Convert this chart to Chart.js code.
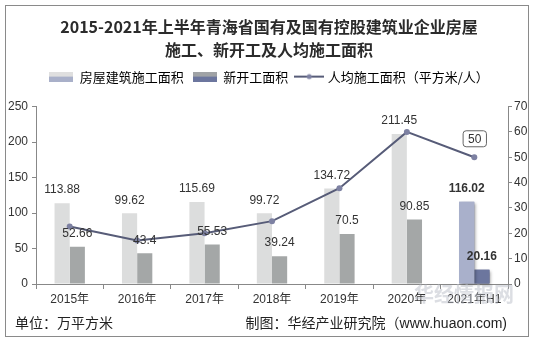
<!DOCTYPE html>
<html>
<head>
<meta charset="utf-8">
<script src="https://cdn.jsdelivr.net/npm/chart.js@4/dist/chart.umd.min.js"></script>
<style>
  html, body { margin: 0; padding: 0; background: #fff; }
  #wrap { position: relative; width: 538px; height: 344px; overflow: hidden; background: #fff; }
  #frame { position: absolute; left: 5px; top: 5px; width: 524px; height: 332px; border: 1px solid #8a8a8a; box-sizing: border-box; pointer-events: none; }
  canvas { position: absolute; left: 0; top: 0; }
  .note { position: absolute; font-family: 'Liberation Sans', Arial, 'Noto Sans CJK SC', sans-serif; font-size: 14px; color: #222; line-height: 18px; white-space: nowrap; }
  .mark { position: absolute; font-family: 'Noto Sans CJK SC', sans-serif; font-weight: bold; font-size: 20px; color: rgba(185, 190, 200, 0.5); white-space: nowrap; }
</style>
</head>
<body>
<div id="wrap">
  <canvas id="c" width="538" height="344"></canvas>
  <div id="frame"></div>
  <div class="mark" style="left:414px; top:279px;">华经情报网</div>
  <div class="note" style="left:15px; top:314px;">单位：万平方米</div>
  <div class="note" style="right:31px; top:314px;">制图：华经产业研究院（www.huaon.com)</div>
</div>
<script>
// Categories and series (construction area in 10k m², per-capita area in m²/person)
const years = ['2015年', '2016年', '2017年', '2018年', '2019年', '2020年', '2021年H1'];
const constructionArea = [113.88, 99.62, 115.69, 99.72, 134.72, 211.45, 116.02];
const newStartArea = [52.66, 43.4, 55.53, 39.24, 70.5, 90.85, 20.16];
const perCapitaArea = [22.7, 17.2, 20.0, 24.8, 37.8, 60, 50];
const leftTicks = [0, 50, 100, 150, 200, 250];
const rightTicks = [0, 10, 20, 30, 40, 50, 60, 70];
const seriesNames = ['房屋建筑施工面积', '新开工面积', '人均施工面积（平方米/人）'];
const titleLines = ['2015-2021年上半年青海省国有及国有控股建筑业企业房屋', '施工、新开工及人均施工面积'];

const lastIdx = years.length - 1;
const LATIN = "'Liberation Sans', Arial, 'Noto Sans CJK SC', sans-serif";
const CJK = "'Noto Sans CJK SC', sans-serif";

const lightColors = years.map((_, i) => i === lastIdx ? '#a9b0cb' : '#dcdddd');
const darkColors = years.map((_, i) => i === lastIdx ? '#6c769e' : '#a4a7a7');

// Legend swatches: two-tone boxes and a line with a dot
function twoTone(top, bottom) {
  const cv = document.createElement('canvas');
  cv.width = 24; cv.height = 10;
  const g = cv.getContext('2d');
  g.fillStyle = top; g.fillRect(0, 0, 24, 5);
  g.fillStyle = bottom; g.fillRect(0, 5, 24, 5);
  return cv;
}
function lineSwatch() {
  const cv = document.createElement('canvas');
  cv.width = 30; cv.height = 10;
  const g = cv.getContext('2d');
  g.strokeStyle = '#575c78'; g.lineWidth = 2;
  g.beginPath(); g.moveTo(0, 5); g.lineTo(30, 5); g.stroke();
  g.fillStyle = '#7d81a2';
  g.beginPath(); g.arc(15, 5, 2.5, 0, Math.PI * 2); g.fill();
  return cv;
}
const swatches = [twoTone('#dfdfdf', '#a9b0c9'), twoTone('#a0a3a6', '#6c769e'), lineSwatch()];

// Highlighted latest-period bars get a soft drop shadow
const barShadow = {
  id: 'barShadow',
  afterDatasetDraw(chart, args) {
    if (args.index > 1) return;
    const el = args.meta.data[lastIdx];
    if (!el) return;
    const ctx = chart.ctx;
    ctx.save();
    ctx.shadowColor = 'rgba(0,0,0,0.35)';
    ctx.shadowBlur = 3;
    ctx.shadowOffsetX = 2;
    ctx.shadowOffsetY = 1;
    el.draw(ctx, chart.chartArea);
    ctx.restore();
  }
};

// Value labels above bars, boxed label on the last per-capita point
const valueLabels = {
  id: 'valueLabels',
  afterDatasetsDraw(chart) {
    const ctx = chart.ctx;
    ctx.save();
    ctx.textAlign = 'center';
    ctx.textBaseline = 'middle';
    ctx.fillStyle = '#333';
    [0, 1].forEach(di => {
      const meta = chart.getDatasetMeta(di);
      const data = chart.data.datasets[di].data;
      meta.data.forEach((el, i) => {
        ctx.font = (i === lastIdx ? 'bold ' : '') + '12px ' + LATIN;
        ctx.fillText(String(data[i]), el.x, el.y - 13);
      });
    });
    const lm = chart.getDatasetMeta(2);
    const p = lm.data[lastIdx];
    const txt = String(perCapitaArea[lastIdx]);
    ctx.font = '12px ' + LATIN;
    const w = ctx.measureText(txt).width + 10, h = 16;
    const bx = p.x - w / 2, by = p.y - 19 - h / 2;
    ctx.beginPath();
    ctx.roundRect(bx + 0.5, by + 0.5, w, h, 3);
    ctx.fillStyle = '#fff'; ctx.fill();
    ctx.strokeStyle = '#666'; ctx.lineWidth = 1; ctx.stroke();
    ctx.fillStyle = '#333';
    ctx.fillText(txt, p.x + 0.5, by + h / 2 + 1);
    ctx.restore();
  }
};

new Chart(document.getElementById('c'), {
  data: {
    labels: years,
    datasets: [
      { type: 'bar', label: seriesNames[0], data: constructionArea, backgroundColor: lightColors,
        yAxisID: 'y', order: 2, categoryPercentage: 0.45, barPercentage: 1 },
      { type: 'bar', label: seriesNames[1], data: newStartArea, backgroundColor: darkColors,
        yAxisID: 'y', order: 2, categoryPercentage: 0.45, barPercentage: 1 },
      { type: 'line', label: seriesNames[2], data: perCapitaArea, yAxisID: 'y1', order: 1,
        borderColor: '#575c78', borderWidth: 2, tension: 0,
        pointRadius: 3, pointBackgroundColor: '#7d81a2', pointBorderWidth: 0 }
    ]
  },
  options: {
    responsive: false,
    animation: false,
    devicePixelRatio: 1,
    layout: { padding: { left: 0, right: 0, top: 0, bottom: 38 } },
    plugins: {
      tooltip: { enabled: false },
      title: {
        display: true, text: titleLines, color: '#2b2b2b',
        font: { family: CJK, size: 16, weight: 'bold', lineHeight: 1.44 },
        padding: { top: 15, bottom: 0 }
      },
      legend: {
        display: true, position: 'top',
        labels: {
          usePointStyle: true, pointStyleWidth: 24, padding: 9, color: '#333',
          font: { family: CJK, size: 13 },
          generateLabels: chart => seriesNames.map((name, i) => ({
            text: name, pointStyle: swatches[i], datasetIndex: i,
            fillStyle: 'transparent', strokeStyle: 'transparent', lineWidth: 0, hidden: false
          }))
        }
      }
    },
    scales: {
      x: {
        type: 'category', position: 'bottom', offset: true,
        grid: { drawOnChartArea: false, offset: true, tickLength: 5, color: '#888' },
        border: { color: '#888' },
        ticks: { color: '#333', font: { family: LATIN, size: 12 }, padding: 3, maxRotation: 0, autoSkip: false },
        afterFit: s => { s.height = 22; }
      },
      xTop: {
        type: 'category', position: 'top', display: true,
        grid: { display: false }, border: { display: false }, ticks: { display: false },
        afterFit: s => { s.height = 13.5; }
      },
      y: {
        position: 'left', min: leftTicks[0], max: leftTicks[leftTicks.length - 1],
        afterBuildTicks: s => { s.ticks = leftTicks.map(v => ({ value: v })); },
        grid: { drawOnChartArea: false, tickLength: 4, color: '#888' },
        border: { color: '#888' },
        ticks: { color: '#333', font: { family: LATIN, size: 12 }, padding: 4 },
        afterFit: s => { s.width = 36; }
      },
      y1: {
        position: 'right', min: rightTicks[0], max: rightTicks[rightTicks.length - 1],
        afterBuildTicks: s => { s.ticks = rightTicks.map(v => ({ value: v })); },
        grid: { drawOnChartArea: false, tickLength: 4, color: '#888' },
        border: { color: '#888' },
        ticks: { color: '#333', font: { family: LATIN, size: 12 }, padding: 2 },
        afterFit: s => { s.width = 30; }
      }
    }
  },
  plugins: [barShadow, valueLabels]
});
</script>
</body>
</html>
